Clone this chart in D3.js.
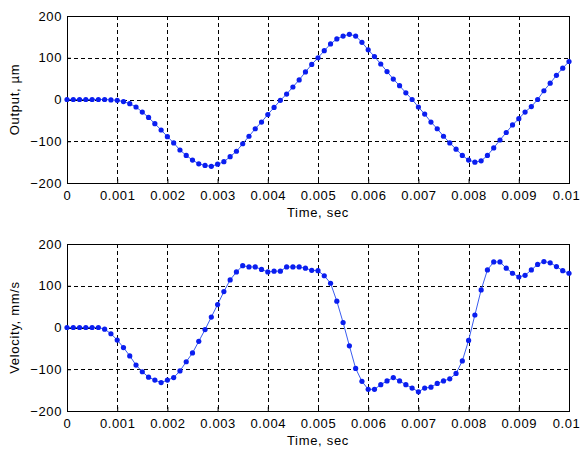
<!DOCTYPE html>
<html>
<head>
<meta charset="utf-8">
<script src="https://cdn.jsdelivr.net/npm/d3@7"></script>
<style>
  body { margin: 0; background: #fff; }
  svg { display: block; }
  .tick text { font-family: Arial, "Liberation Sans", sans-serif; font-size: 13px; letter-spacing: 0.6px; fill: #000; }
  .lbl { font-family: Arial, "Liberation Sans", sans-serif; font-size: 13px; letter-spacing: 0.7px; fill: #000; }
</style>
</head>
<body>
<svg id="chart" width="582" height="454"></svg>
<script>
// sample time step 0.000125 s, 81 samples from 0 to 0.01
const dt = 0.000125;
const xTicks = [0, 0.001, 0.002, 0.003, 0.004, 0.005, 0.006, 0.007, 0.008, 0.009, 0.01];
const yTicks = [-200, -100, 0, 100, 200];

const output = [
  0, 0, 0, 0, 0, 0, 0, -1, -2, -5,
  -10, -18, -30, -43, -58, -73, -89, -104, -121, -134,
  -145, -154, -158, -160, -155, -149, -137, -124, -106, -88,
  -70, -54, -36, -19, -2, 13, 30, 47, 66, 84,
  100, 117, 133, 145, 152, 156, 152, 137, 119, 103,
  85, 67, 49, 33, 16, 0, -18, -35, -54, -70,
  -88, -104, -119, -134, -145, -150, -147, -134, -116, -97,
  -79, -61, -46, -30, -17, 0, 21, 39, 58, 75,
  91
];

const velocity = [
  0, 0, 0, 0, 0, 0, -4, -15, -30, -48,
  -68, -90, -106, -119, -126, -132, -126, -120, -104, -82,
  -61, -33, -5, 25, 55, 86, 114, 133, 148, 145,
  145, 139, 133, 135, 135, 145, 145, 145, 142, 137,
  136, 124, 106, 63, 12, -44, -98, -129, -148, -148,
  -137, -128, -120, -128, -137, -145, -154, -145, -143, -134,
  -128, -123, -110, -80, -31, 30, 90, 138, 157, 157,
  142, 130, 121, 125, 138, 151, 158, 155, 146, 136,
  130
];

const svg = d3.select('#chart');
const left = 67, right = 569;

function panel (values, top, bottom, ylabel) {
  let x = d3.scaleLinear().domain([0, 0.01]).range([left, right]),
      y = d3.scaleLinear().domain([-200, 200]).range([bottom, top]),
      g = svg.append('g'),
      data = values.map((v, i) => [i * dt, v]);

  // dashed grid
  g.selectAll('.gx').data(xTicks.slice(1, -1)).enter().append('line')
    .attr('x1', d => Math.round(x(d)) + 0.5).attr('x2', d => Math.round(x(d)) + 0.5)
    .attr('y1', top).attr('y2', bottom)
    .attr('stroke', '#000').attr('stroke-dasharray', '4,3');
  g.selectAll('.gy').data(yTicks.slice(1, -1)).enter().append('line')
    .attr('y1', d => Math.round(y(d)) + 0.5).attr('y2', d => Math.round(y(d)) + 0.5)
    .attr('x1', left).attr('x2', right)
    .attr('stroke', '#000').attr('stroke-dasharray', '4,3');

  // axes, ticks pointing inward like matlab
  g.append('g').attr('transform', `translate(0,${bottom})`)
    .call(d3.axisBottom(x).tickValues(xTicks).tickFormat(d => d === 0.01 ? '0.01' : d3.format('.3~f')(d))
      .tickSizeInner(-4).tickSizeOuter(0).tickPadding(8))
    .call(a => a.select('.domain').remove())
    .call(a => a.selectAll('.tick text').filter(d => d === 0.01).attr('dx', -3));
  g.append('g').attr('transform', `translate(${left},0)`)
    .call(d3.axisLeft(y).tickValues(yTicks).tickSizeInner(-4).tickSizeOuter(0).tickPadding(5))
    .call(a => a.select('.domain').remove());

  g.append('rect')
    .attr('x', left + 0.5).attr('y', top + 0.5)
    .attr('width', right - left).attr('height', bottom - top)
    .attr('fill', 'none').attr('stroke', '#000');

  g.append('path').datum(data)
    .attr('d', d3.line().x(d => x(d[0])).y(d => y(d[1])))
    .attr('fill', 'none').attr('stroke', '#3a5cf0').attr('stroke-width', 1);

  g.selectAll('.dot').data(data).enter().append('circle')
    .attr('cx', d => x(d[0])).attr('cy', d => y(d[1]))
    .attr('r', 2.6).attr('fill', '#0a1ef0');

  g.append('text').attr('class', 'lbl')
    .attr('x', (left + right) / 2).attr('y', bottom + 34)
    .attr('text-anchor', 'middle').text('Time, sec');

  g.append('text').attr('class', 'lbl')
    .attr('transform', `translate(19,${(top + bottom) / 2}) rotate(-90)`)
    .attr('text-anchor', 'middle').text(ylabel);
}

panel(output, 16, 183, 'Output, \u00b5m');
panel(velocity, 244, 411, 'Velocity, mm/s');
</script>
</body>
</html>
